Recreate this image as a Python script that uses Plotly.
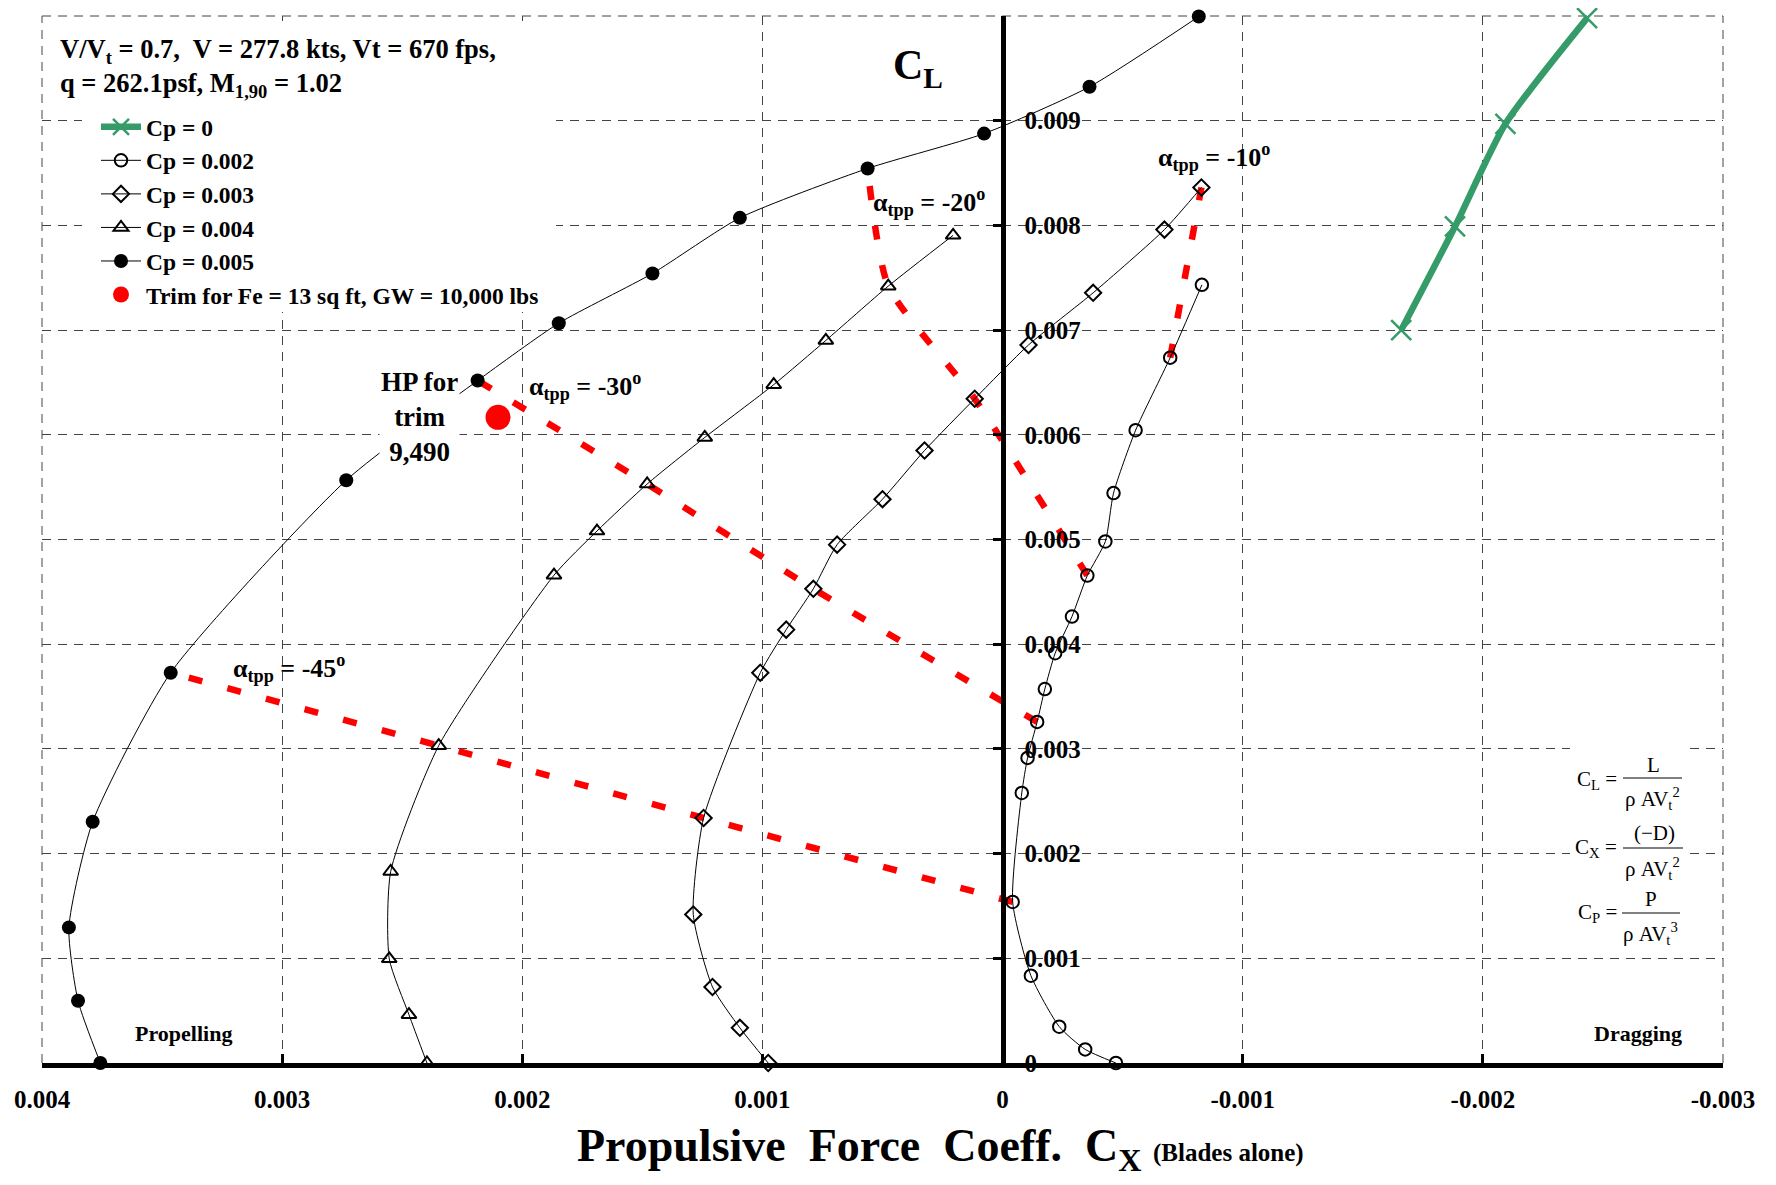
import plotly.graph_objects as go

# ---------------- data ----------------
x_tick_vals = [0.004, 0.003, 0.002, 0.001, 0.0, -0.001, -0.002, -0.003]
x_tick_text = ["0.004", "0.003", "0.002", "0.001", "0", "-0.001", "-0.002", "-0.003"]
y_tick_vals = [0.0, 0.001, 0.002, 0.003, 0.004, 0.005, 0.006, 0.007, 0.008, 0.009, 0.01]
y_tick_text = ["0", "0.001", "0.002", "0.003", "0.004", "0.005", "0.006", "0.007", "0.008", "0.009", "0.01"]

# Cp = 0 (green)
cp0_cx = [-0.001660, -0.001884, -0.002094, -0.002434]
cp0_cl = [0.00700, 0.00799, 0.00897, 0.00998]

# Cp = 0.002 (open circles)
cp2_cx = [-0.000472, -0.000344, -0.000236, -0.000118, -0.000042, -0.000080, -0.000104, -0.000144,
          -0.000176, -0.000219, -0.000289, -0.000353, -0.000428, -0.000462, -0.000554, -0.000698, -0.000830]
cp2_cl = [0.0, 0.000130, 0.000347, 0.000834, 0.001538, 0.002579, 0.002914, 0.003258,
          0.003572, 0.003914, 0.004264, 0.004656, 0.004981, 0.005443, 0.006044, 0.006737, 0.007432]

# Cp = 0.003 (diamonds)
cp3_cx = [0.000976, 0.001094, 0.001208, 0.001288, 0.001245, 0.001009, 0.000901, 0.000788,
          0.000689, 0.000500, 0.000325, 0.000116, -0.000108, -0.000377, -0.000674, -0.000828]
cp3_cl = [0.0, 0.000336, 0.000726, 0.001419, 0.002340, 0.003727, 0.004139, 0.004529,
          0.004951, 0.005385, 0.005850, 0.006344, 0.006858, 0.007356, 0.007960, 0.008362]

# Cp = 0.004 (triangles)
cp4_cx = [0.002397, 0.002472, 0.002554, 0.002548, 0.002348, 0.001868, 0.001689, 0.001480,
          0.001240, 0.000953, 0.000736, 0.000476, 0.000206]
cp4_cl = [0.0, 0.000462, 0.000995, 0.001829, 0.003031, 0.004659, 0.005081, 0.005530,
          0.005975, 0.006479, 0.006901, 0.007420, 0.007905]

# Cp = 0.005 (filled circles)
cp5_cx = [0.003757, 0.003850, 0.003888, 0.003789, 0.003464, 0.002733, 0.002186, 0.001848,
          0.001458, 0.001094, 0.000562, 0.000077, -0.000362, -0.000817]
cp5_cl = [0.0, 0.000595, 0.001295, 0.002304, 0.003728, 0.005566, 0.006518, 0.007066,
          0.007541, 0.008072, 0.008544, 0.008877, 0.009324, 0.009995]

# constant tip-path-plane angle lines (from Cp=0.002 end to Cp=0.005 end)
a45_cx = [-0.000042, 0.001245, 0.002348, 0.003464]
a45_cl = [0.001538, 0.002340, 0.003031, 0.003728]
a30_cx = [-0.000144, 0.000788, 0.001480, 0.002186]
a30_cl = [0.003258, 0.004529, 0.005530, 0.006518]
a20_cx = [-0.000353, 0.000116, 0.000476, 0.000562]
a20_cl = [0.004656, 0.006344, 0.007420, 0.008544]
a10_cx = [-0.000698, -0.000828]
a10_cl = [0.006737, 0.008362]

# trim point
trim_cx = [0.002101]
trim_cl = [0.006167]

# ---------------- layout helpers (page pixel coordinates) ----------------
PAGE_W, PAGE_H = 1776, 1185
OFF = 8                      # default body margin of the html page
W, H = PAGE_W - 2 * OFF, PAGE_H - 2 * OFF
X0, X1, Y0, Y1 = 42, 1723, 16, 1063   # plot area in page pixels
ML, MR, MT, MB = X0 - OFF, (OFF + W) - X1, Y0 - OFF, (OFF + H) - Y1
FONT = "Liberation Serif, Times New Roman, serif"


def px(x):
    return (x - X0) / (X1 - X0)


def py(y):
    return (Y1 - y) / (Y1 - Y0)


fig = go.Figure()

RED = "#ff0000"
GREEN = "#359b68"
GRID = "#444444"
GDASH = "9px,7px"

for cx, cl in [(a45_cx, a45_cl), (a30_cx, a30_cl), (a20_cx, a20_cl), (a10_cx, a10_cl)]:
    fig.add_trace(go.Scatter(x=cx, y=cl, mode="lines", showlegend=False, hoverinfo="skip", cliponaxis=False,
                             line=dict(color=RED, width=6.5, dash="14px,26px", shape="spline", smoothing=0.6)))

fig.add_trace(go.Scatter(x=cp0_cx, y=cp0_cl, mode="lines+markers", name="Cp = 0", cliponaxis=False,
                         line=dict(color=GREEN, width=6.5, shape="spline", smoothing=0.6),
                         marker=dict(symbol="x-thin", size=20, line=dict(color=GREEN, width=2.5), color=GREEN)))
fig.add_trace(go.Scatter(x=cp2_cx, y=cp2_cl, mode="lines+markers", name="Cp = 0.002", cliponaxis=False,
                         line=dict(color="black", width=1, shape="spline", smoothing=0.6),
                         marker=dict(symbol="circle-open", size=12.5, line=dict(color="black", width=2), color="black")))
fig.add_trace(go.Scatter(x=cp3_cx, y=cp3_cl, mode="lines+markers", name="Cp = 0.003", cliponaxis=False,
                         line=dict(color="black", width=1, shape="spline", smoothing=0.6),
                         marker=dict(symbol="diamond-open", size=12.5, line=dict(color="black", width=2), color="black")))
fig.add_trace(go.Scatter(x=cp4_cx, y=cp4_cl, mode="lines+markers", name="Cp = 0.004", cliponaxis=False,
                         line=dict(color="black", width=1, shape="spline", smoothing=0.6),
                         marker=dict(symbol="triangle-up-open", size=13, line=dict(color="black", width=2), color="black")))
fig.add_trace(go.Scatter(x=cp5_cx, y=cp5_cl, mode="lines+markers", name="Cp = 0.005", cliponaxis=False,
                         line=dict(color="black", width=1, shape="spline", smoothing=0.6),
                         marker=dict(symbol="circle", size=14, color="black")))
fig.add_trace(go.Scatter(x=trim_cx, y=trim_cl, mode="markers", name="Trim for Fe = 13 sq ft, GW = 10,000 lbs",
                         marker=dict(symbol="circle", size=25, color=RED)))

ann = []


def add_text(text, x, y, size, xanchor="center", yanchor="middle", bold=True, bg=None, align="center"):
    d = dict(text=text, x=px(x), y=py(y), xref="paper", yref="paper", showarrow=False,
             xanchor=xanchor, yanchor=yanchor, align=align,
             font=dict(family=FONT, size=size, color="black", weight="bold" if bold else "normal"))
    if bg:
        d["bgcolor"] = bg
    ann.append(d)


add_text("V/V<sub>t</sub> = 0.7,  V = 277.8 kts, Vt = 670 fps,<br>q = 262.1psf, M<sub>1,90</sub> = 1.02",
         58, 68, 26.5, xanchor="left", align="left")
add_text("C<sub>L</sub>", 918, 68, 42)
add_text("HP for<br>trim<br>9,490", 419, 417, 27, bg="white")
add_text("α<sub>tpp</sub> = -45<sup>o</sup>", 231, 668, 26, xanchor="left")
add_text("α<sub>tpp</sub> = -30<sup>o</sup>", 527, 386, 26, xanchor="left")
add_text("α<sub>tpp</sub> = -20<sup>o</sup>", 871, 202, 26, xanchor="left")
add_text("α<sub>tpp</sub> = -10<sup>o</sup>", 1156, 157, 26, xanchor="left")
add_text("Propelling", 183, 1033, 22)
add_text("Dragging", 1638, 1033, 22)

# formulas
add_text("C<sub>L</sub> =", 1619, 780, 21, xanchor="right", bold=False)
add_text("L", 1653, 765, 21, bold=False)
add_text("ρ AV<sub>t</sub><sup>2</sup>", 1652, 798, 21, bold=False)
add_text("C<sub>X</sub> =", 1619, 848, 21, xanchor="right", bold=False)
add_text("(−D)", 1654, 833, 21, bold=False)
add_text("ρ AV<sub>t</sub><sup>2</sup>", 1652, 868, 21, bold=False)
add_text("C<sub>P</sub> =", 1619, 913, 21, xanchor="right", bold=False)
add_text("P", 1651, 899, 21, bold=False)
add_text("ρ AV<sub>t</sub><sup>3</sup>", 1650, 933, 21, bold=False)

# axis title
add_text("Propulsive  Force  Coeff.  C<sub>X</sub> <span style='font-size:25px'>(Blades alone)</span>",
         940, 1149, 46)

shapes = [
    # white background of the legend / info box (hides grid lines; no data in this region)
    dict(type="rect", xref="paper", yref="paper", x0=px(82), x1=px(556), y0=py(312), y1=py(21),
         fillcolor="white", line=dict(width=0)),
    # white background of the formula box
    dict(type="rect", xref="paper", yref="paper", x0=px(1570), x1=px(1688), y0=py(945), y1=py(742),
         fillcolor="white", line=dict(width=0)),
    # grid lines at the plot edges (plotly omits grid lines on the range ends)
    dict(type="line", xref="paper", yref="paper", x0=0, x1=0, y0=0, y1=1,
         line=dict(color=GRID, width=1, dash=GDASH), layer="between"),
    dict(type="line", xref="paper", yref="paper", x0=1, x1=1, y0=0, y1=1,
         line=dict(color=GRID, width=1, dash=GDASH), layer="between"),
    dict(type="line", xref="paper", yref="paper", x0=0, x1=1, y0=1, y1=1,
         line=dict(color=GRID, width=1, dash=GDASH), layer="between"),
]
for x0, x1, y in [(1623, 1682, 778), (1623, 1683, 848), (1622, 1680, 913)]:
    shapes.append(dict(type="line", xref="paper", yref="paper", x0=px(x0), x1=px(x1), y0=py(y), y1=py(y),
                       line=dict(color="black", width=1)))

fig.update_layout(
    width=W, height=H,
    margin=dict(l=ML, r=MR, t=MT, b=MB, autoexpand=False),
    paper_bgcolor="white", plot_bgcolor="white",
    font=dict(family=FONT, color="black"),
    showlegend=True,
    legend=dict(x=px(96), y=py(105), xanchor="left", yanchor="top", bgcolor="rgba(255,255,255,0)",
                font=dict(family=FONT, size=23.5, color="black", weight="bold"),
                borderwidth=0, itemwidth=40),
    annotations=ann,
    shapes=shapes,
    xaxis=dict(range=[0.004, -0.003], tickvals=x_tick_vals, ticktext=x_tick_text,
               ticks="inside", ticklen=9, tickwidth=3, tickcolor="black",
               showline=True, linewidth=5, linecolor="black", automargin=False,
               showgrid=True, gridcolor=GRID, gridwidth=1, griddash=GDASH,
               zeroline=False, ticklabelstandoff=10,
               tickfont=dict(family=FONT, size=25, color="black", weight="bold")),
    yaxis=dict(range=[0, 0.01], tickvals=y_tick_vals, ticktext=y_tick_text,
               anchor="free", position=4 / 7, side="right", automargin=False,
               ticks="inside", ticklen=8, tickwidth=3, tickcolor="black",
               showline=True, linewidth=5, linecolor="black",
               showgrid=True, gridcolor=GRID, gridwidth=1, griddash=GDASH,
               zeroline=False, ticklabelstandoff=14,
               tickfont=dict(family=FONT, size=25, color="black", weight="bold")),
)

fig.write_html("out.html")
